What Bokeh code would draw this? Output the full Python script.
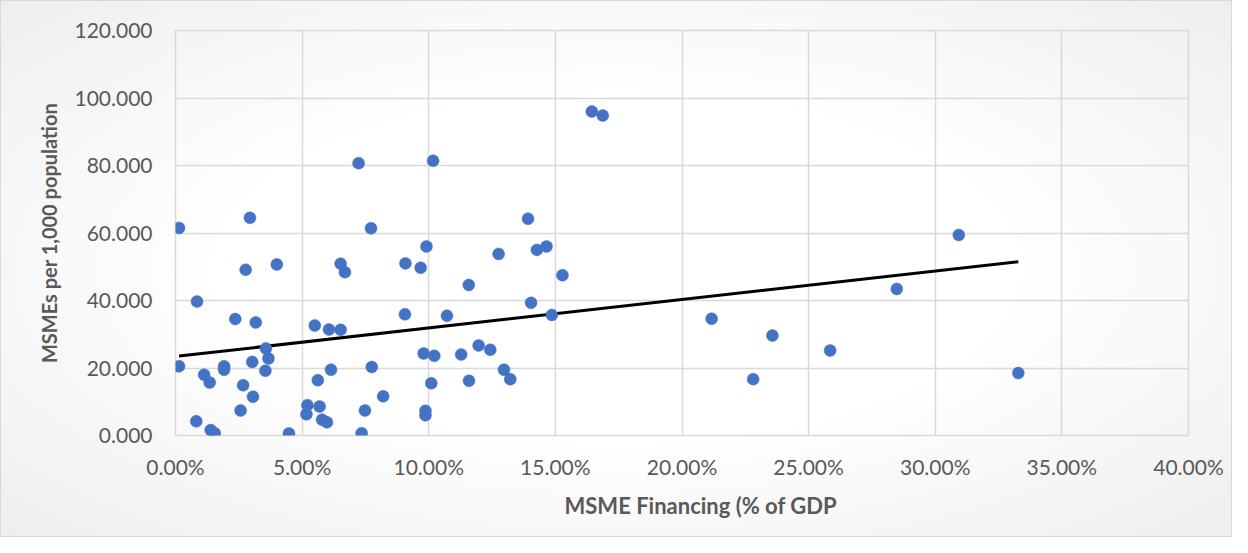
import numpy as np
from bokeh.plotting import figure
from bokeh.models import (ColumnDataSource, FixedTicker, NumeralTickFormatter,
                          Range1d, Title)
from bokeh.embed import file_html
from bokeh.resources import INLINE

# MSME financing (% of GDP) and MSMEs per 1,000 population
financing_pct = [
    0.14, 2.94, 7.72, 7.23, 10.17, 16.44, 16.87, 13.92, 9.91, 9.08,
    9.68, 2.77, 4.00, 6.52, 6.69, 12.76, 14.27, 14.65, 15.28, 11.58,
    14.04, 14.86, 10.72, 9.06, 0.85, 2.36, 3.17, 5.50, 6.06, 6.52,
    3.57, 3.67, 3.03, 3.55, 0.14, 1.13, 1.35, 1.92, 1.92, 2.67,
    3.06, 2.57, 0.82, 1.39, 1.55, 4.48, 6.14, 5.62, 7.75, 8.20,
    7.48, 7.35, 5.21, 5.17, 5.69, 5.79, 5.98, 9.80, 10.22, 10.10,
    9.87, 9.87, 11.28, 11.97, 12.43, 12.97, 13.22, 11.59, 30.93, 28.48,
    21.17, 23.57, 25.85, 22.81, 33.28,
]
msmes_per_1000 = [
    61.5, 64.5, 61.4, 80.7, 81.4, 96.0, 94.8, 64.2, 56.0, 51.0,
    49.7, 49.1, 50.7, 50.9, 48.4, 53.8, 55.0, 56.0, 47.5, 44.6,
    39.3, 35.7, 35.5, 35.9, 39.7, 34.5, 33.5, 32.6, 31.4, 31.3,
    25.8, 22.8, 21.8, 19.2, 20.5, 18.0, 15.7, 20.5, 19.5, 14.9,
    11.5, 7.4, 4.2, 1.6, 0.7, 0.6, 19.5, 16.4, 20.3, 11.6,
    7.4, 0.7, 9.0, 6.3, 8.6, 4.7, 3.9, 24.3, 23.6, 15.5,
    7.3, 6.0, 24.0, 26.7, 25.4, 19.5, 16.7, 16.2, 59.4, 43.4,
    34.6, 29.6, 25.2, 16.7, 18.5,
]
x_ticks = [0.0, 0.05, 0.10, 0.15, 0.20, 0.25, 0.30, 0.35, 0.40]
y_ticks = [0, 20, 40, 60, 80, 100, 120]
x_title = "MSME Financing (% of GDP"
y_title = "MSMEs per 1,000 population"

x = np.array(financing_pct) / 100.0
y = np.array(msmes_per_1000)
src = ColumnDataSource(data=dict(x=x, y=y))

# linear trendline (least squares), spanning the data range
slope, intercept = np.polyfit(x, y, 1)
tx = np.array([x.min(), x.max()])
trend = ColumnDataSource(data=dict(x=tx, y=slope * tx + intercept))

FONT = "Lato"
GRAY = "#595959"
GRID = "#d9d9d9"

p = figure(frame_width=1013, frame_height=405,
           min_border_left=174, min_border_right=43,
           min_border_top=29, min_border_bottom=101,
           x_range=Range1d(0, 0.40), y_range=Range1d(0, 120),
           output_backend="svg", toolbar_location=None)

p.styles = {"background": "radial-gradient(ellipse at center, #ffffff 45%, #eeeeee 100%)",
            "border": "1px solid #d9d9d9"}
p.border_fill_color = None
p.background_fill_color = None
p.outline_line_color = GRID
p.outline_line_width = 1.5

p.line("x", "y", source=trend, line_color="black", line_width=3)
p.scatter("x", "y", source=src, size=12, fill_color="#4472C4",
          line_color="#4472C4", line_width=0.5)

p.xaxis.ticker = FixedTicker(ticks=x_ticks)
p.yaxis.ticker = FixedTicker(ticks=y_ticks)
p.xaxis.formatter = NumeralTickFormatter(format="0.00%")
p.yaxis.formatter = NumeralTickFormatter(format="0.000")

for ax in (p.xaxis, p.yaxis):
    ax.axis_line_color = None
    ax.major_tick_line_color = None
    ax.minor_tick_line_color = None
    ax.major_tick_out = 0
    ax.major_tick_in = 0
    ax.minor_tick_out = 0
    ax.major_label_text_font = FONT
    ax.major_label_text_font_size = "21px"
    ax.major_label_text_color = GRAY

p.xaxis.major_label_standoff = 18
p.yaxis.major_label_standoff = 23

p.yaxis.axis_label = y_title
p.yaxis.axis_label_text_font = FONT
p.yaxis.axis_label_text_font_style = "bold"
p.yaxis.axis_label_text_font_size = "20px"
p.yaxis.axis_label_text_color = GRAY
p.yaxis.axis_label_standoff = 10

xt = Title(text=x_title, align="left", offset=389, standoff=17,
           text_font=FONT, text_font_style="bold", text_font_size="22px",
           text_color=GRAY)
p.add_layout(xt, "below")

p.xgrid.grid_line_color = GRID
p.ygrid.grid_line_color = GRID
p.xgrid.grid_line_width = 1.5
p.ygrid.grid_line_width = 1.5

open("out.html", "w").write(file_html(p, INLINE))
